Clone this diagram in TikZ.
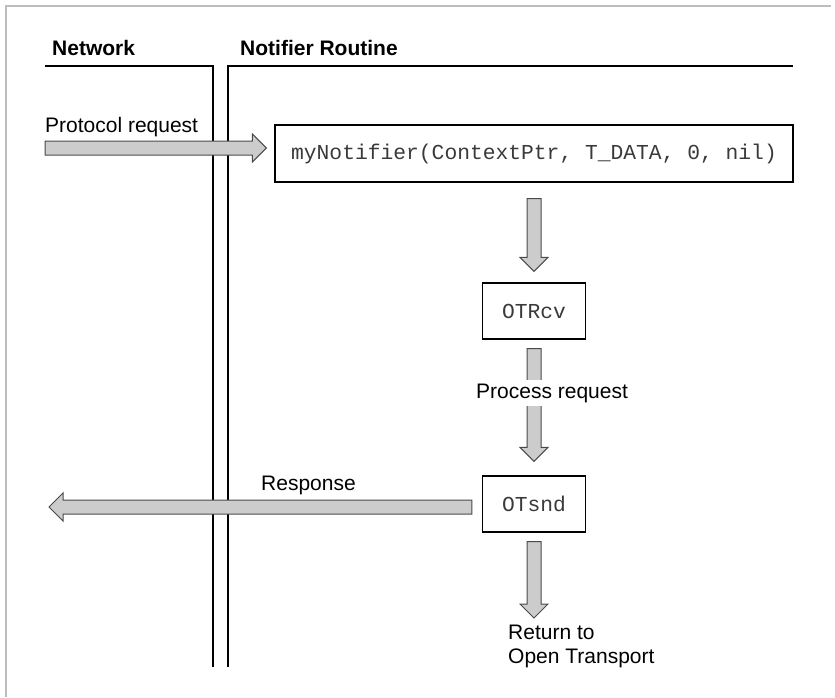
\documentclass[tikz,border=0pt]{standalone}
\usepackage{fontspec}
\setmainfont{Liberation Sans}
\setmonofont{Liberation Mono}
\usepackage{tikz}
\usetikzlibrary{calc}
\definecolor{c_frame}{HTML}{BDBDBD}
\definecolor{c_fill}{HTML}{CCCCCC}
\definecolor{c_edge}{HTML}{4A4A4A}
\definecolor{c_code}{HTML}{3A3A3A}
% fat arrow: from, to, gap at start, gap at end
\newcommand\blockarrow[4]{%
  \draw [blockarrow] let \p1=($(#1)!#3!(#2)$), \p2=($(#2)!#4!(#1)$),
    \n1={veclen(\x2-\x1,\y2-\y1)}, \n2={(\x2-\x1)/\n1}, \n3={(\y2-\y1)/\n1} in
    ({\x1-7*\n3},{\y1+7*\n2}) -- ({\x2-14*\n2-7*\n3},{\y2-14*\n3+7*\n2}) --
    ({\x2-14*\n2-14*\n3},{\y2-14*\n3+14*\n2}) -- (\p2) --
    ({\x2-14*\n2+14*\n3},{\y2-14*\n3-14*\n2}) -- ({\x2-14*\n2+7*\n3},{\y2-14*\n3-7*\n2}) --
    ({\x1+7*\n3},{\y1-7*\n2}) -- cycle;}

\begin{document}
\begin{tikzpicture}
[x=1pt,y=-1pt,
 blockarrow/.style={draw=c_edge,fill=c_fill,line width=1pt,line join=miter},
 codebox/.style={draw=black,line width=1.2pt,inner sep=0pt,text=c_code,font=\fontsize{21.3}{24}\ttfamily},
 lane/.style={black,line width=1.2pt},
 txt/.style={anchor=base west,inner sep=0pt,font=\fontsize{21}{24}\selectfont},
 head/.style={txt,font=\fontsize{21}{24}\selectfont\bfseries}]
	\useasboundingbox (0,0) rectangle (835,697);
	\draw [c_frame, line width=2pt] (5.5,697) -- (5.5,5.5) -- (831,5.5);

	\node [head] (net) at (52,55) {Network};
	\node [head] (notif) at (240,55) {Notifier Routine};
	\draw [lane] (45,66) -- (213,66) -- (213,667);
	\draw [lane] (793,66) -- (228,66) -- (228,667);

	\node [codebox, minimum width=518pt, minimum height=57pt] (note) at (534,153.5) {myNotifier(ContextPtr, T\_DATA, 0, nil)};
	\node [codebox, minimum width=103pt, minimum height=56pt] (rcv) at (534,311) {OTRcv};
	\node [codebox, minimum width=103pt, minimum height=56pt] (snd) at (534,504) {OTsnd};

	\coordinate (netin) at (45,148);
	\coordinate (netout) at (49,507);
	\coordinate (done) at (534,618);

	\blockarrow{netin}{note.west |- netin}{0pt}{8pt}
	\blockarrow{note.south}{rcv.north}{16pt}{11pt}
	\blockarrow{rcv.south}{snd.north}{9pt}{14pt}
	\blockarrow{snd.west |- netout}{netout}{10pt}{0pt}
	\blockarrow{snd.south}{done}{9pt}{0pt}

	\node [txt] (req) at (45,132) {Protocol request};
	\node [txt, fill=white, inner ysep=3.5pt] (proc) at (476,398) {Process request};
	\node [txt] (resp) at (261,490) {Response};
	\node [txt, anchor=north west, align=left] (ret) at (508,625) {Return to\\Open Transport};
\end{tikzpicture}
\end{document}
